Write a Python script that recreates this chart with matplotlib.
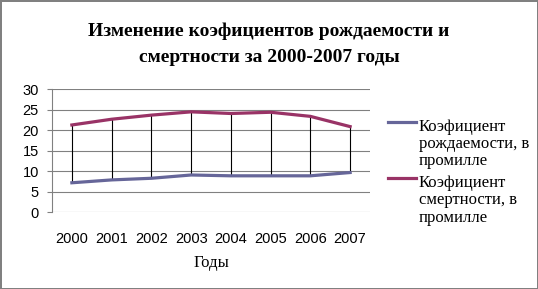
import matplotlib
matplotlib.use('Agg')
import matplotlib.pyplot as plt
from matplotlib.legend_handler import HandlerLine2D
from matplotlib.transforms import Affine2D
import numpy as np

years = ['2000', '2001', '2002', '2003', '2004', '2005', '2006', '2007']
birth = [7.2, 7.9, 8.3, 9.1, 8.9, 8.9, 8.9, 9.7]
death = [21.3, 22.7, 23.7, 24.5, 24.1, 24.4, 23.4, 20.9]
labels = ['Коэфициент\nрождаемости, в\nпромилле', 'Коэфициент\nсмертности, в\nпромилле']


# legend line next to the first text row, like Excel does
class TopLine(HandlerLine2D):
    def create_artists(self, legend, orig_handle, xdescent, ydescent, width, height, fontsize, trans):
        trans = Affine2D().translate(0, 16) + trans
        return super().create_artists(legend, orig_handle, xdescent, ydescent, width, height, fontsize, trans)


fig = plt.figure(figsize=(5.38, 2.89), dpi=100)
fig.patch.set_edgecolor('#808080')
fig.patch.set_linewidth(2)
ax = fig.add_axes([52/538, 1 - 212.3/289, (370 - 52)/538, (212.3 - 89.3)/289])

x = np.arange(len(years))
ax.vlines(x, birth, death, colors='black', linewidth=0.8, zorder=2)
ax.plot(x, birth, color='#666699', linewidth=2.3, label=labels[0], zorder=3)
ax.plot(x, death, color='#993366', linewidth=2.3, label=labels[1], zorder=3)

ax.set_xlim(-0.5, 7.5)
ax.set_ylim(0, 30)
ax.set_yticks(range(0, 31, 5))
ax.set_xticks(x)
ax.set_xticklabels(years)
ax.grid(axis='y', color='#808080', linewidth=0.8)
ax.set_axisbelow(True)
for s in ['top', 'right', 'bottom']:
    ax.spines[s].set_visible(False)
ax.spines['left'].set_color('#808080')
ax.tick_params(labelsize=10.5, labelfontfamily='Liberation Sans')
ax.tick_params(axis='y', length=3.5, color='#808080', pad=6)
ax.tick_params(axis='x', length=0, pad=14)
ax.set_xlabel('Годы', family='Liberation Serif', fontsize=12, labelpad=7)

fig.text(0.5, 1 - 31/289, 'Изменение коэфициентов рождаемости и', ha='center', va='center',
         family='Liberation Serif', fontweight='bold', fontsize=14)
fig.text(0.5, 1 - 57/289, 'смертности за 2000-2007 годы', ha='center', va='center',
         family='Liberation Serif', fontweight='bold', fontsize=14)

leg = fig.legend(loc='upper left', bbox_to_anchor=(388/538, 1 - 119/289), frameon=False,
                 prop={'family': 'Liberation Serif', 'size': 12}, handlelength=1.65,
                 handletextpad=0.2, labelspacing=0.35, borderaxespad=0, borderpad=0,
                 handler_map={plt.Line2D: TopLine()})
for t in leg.get_texts():
    t.set_linespacing(1.1)

fig.savefig('out.png', dpi=100)
